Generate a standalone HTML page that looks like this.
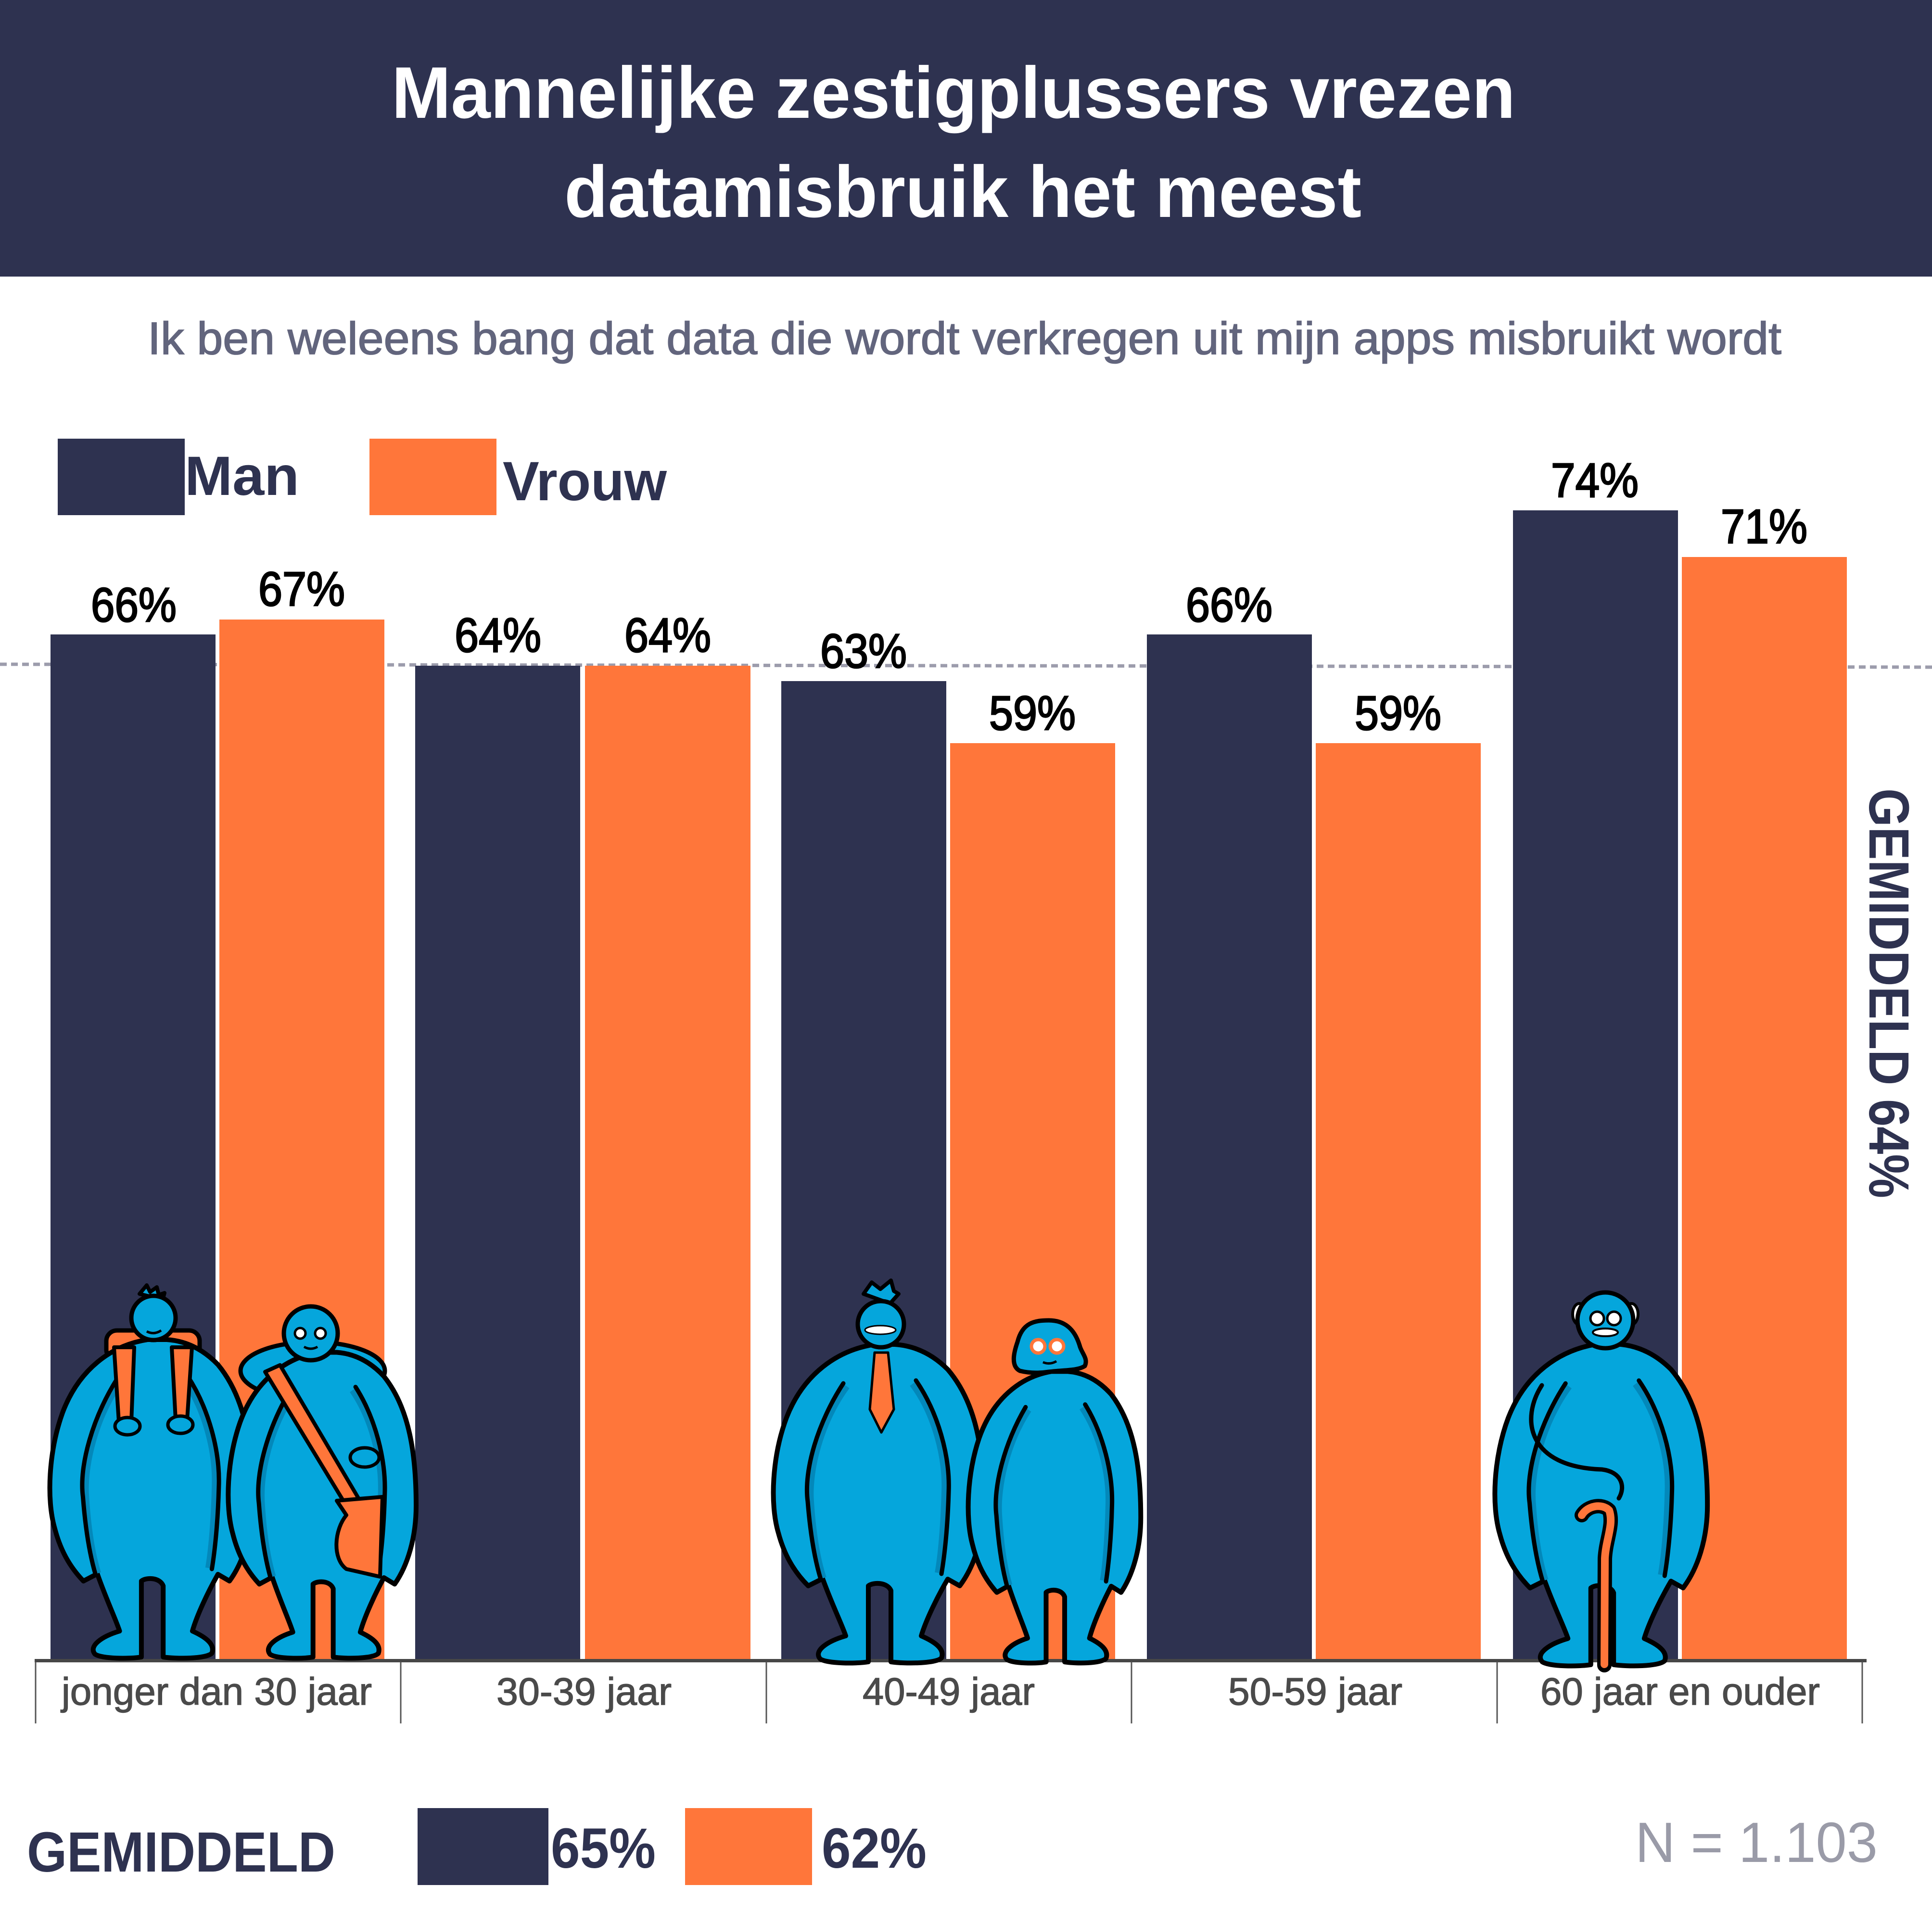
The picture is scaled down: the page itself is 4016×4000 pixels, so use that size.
<!DOCTYPE html>
<html>
<head>
<meta charset="utf-8">
<style>
html,body{margin:0;padding:0;background:#fff;}
svg{display:block;}
text{font-family:"Liberation Sans",sans-serif;}
</style>
</head>
<body>
<svg width="4016" height="4000" viewBox="0 0 4016 4000" xmlns="http://www.w3.org/2000/svg">
<defs>
  <g id="fig">
    <path d="M -12 -662 C -90 -650, -160 -600, -195 -510 C -225 -430, -230 -330, -212 -270 C -200 -225, -180 -190, -150 -160 L -120 -175 C -100 -120, -80 -80, -72 -56 C -110 -45, -140 -25, -125 -8 C -110 2, -50 2, -25 -2 L -25 -160 C -15 -168, 15 -168, 22 -150 L 22 -2 C 50 2, 115 2, 127 -10 C 135 -30, 110 -45, 85 -56 C 95 -90, 120 -140, 140 -174 L 165 -160 C 195 -200, 215 -260, 215 -330 C 215 -440, 200 -540, 140 -610 C 100 -650, 60 -660, 30 -662 Z" fill="#05a6dc" stroke="#000" stroke-width="10" stroke-linejoin="round" vector-effect="non-scaling-stroke"/>
    <path d="M -70 -575 C -125 -500, -150 -400, -145 -335 C -140 -260, -130 -210, -119 -176" fill="none" stroke="#0388ba" stroke-width="14" vector-effect="non-scaling-stroke"/>
    <path d="M 67 -580 C 112 -520, 137 -430, 134 -356 C 132 -280, 126 -220, 120 -187" fill="none" stroke="#0388ba" stroke-width="14" vector-effect="non-scaling-stroke"/>
    <path d="M -77 -581 C -130 -500, -160 -400, -151 -335 C -145 -260, -135 -210, -124 -174" fill="none" stroke="#000" stroke-width="9" stroke-linecap="round" vector-effect="non-scaling-stroke"/>
    <path d="M 74 -587 C 120 -520, 145 -430, 142 -356 C 140 -280, 133 -220, 127 -185" fill="none" stroke="#000" stroke-width="9" stroke-linecap="round" vector-effect="non-scaling-stroke"/>
  </g>
</defs>

<!-- Header -->
<rect x="0" y="0" width="4016" height="575" fill="#2e3250"/>
<text x="814" y="245" font-size="152" font-weight="bold" fill="#ffffff" textLength="2336" lengthAdjust="spacingAndGlyphs">Mannelijke zestigplussers vrezen</text>
<text x="1173" y="451" font-size="152" font-weight="bold" fill="#ffffff" textLength="1657" lengthAdjust="spacingAndGlyphs">datamisbruik het meest</text>

<!-- Subtitle -->
<text x="307" y="736" font-size="95" fill="#62657d" stroke="#62657d" stroke-width="1.8" textLength="3396" lengthAdjust="spacingAndGlyphs">Ik ben weleens bang dat data die wordt verkregen uit mijn apps misbruikt wordt</text>

<!-- Legend -->
<rect x="120" y="912" width="264" height="159" fill="#2e3250"/>
<rect x="768" y="912" width="264" height="159" fill="#ff763a"/>
<text x="384" y="1029" font-size="115" font-weight="bold" fill="#2e3250" textLength="238" lengthAdjust="spacingAndGlyphs">Man</text>
<text x="1045" y="1040" font-size="115" font-weight="bold" fill="#2e3250" textLength="341" lengthAdjust="spacingAndGlyphs">Vrouw</text>

<!-- Average dashed line -->
<line x1="0" y1="1381" x2="4016" y2="1387" stroke="#9c9cac" stroke-width="7" stroke-dasharray="14 9"/>

<!-- Bars -->
<rect x="105" y="1319" width="343" height="2130" fill="#2e3250"/>
<rect x="456" y="1288" width="343" height="2161" fill="#ff763a"/>
<rect x="863" y="1384" width="343" height="2065" fill="#2e3250"/>
<rect x="1216" y="1384" width="344" height="2065" fill="#ff763a"/>
<rect x="1624" y="1416" width="343" height="2033" fill="#2e3250"/>
<rect x="1975" y="1545" width="343" height="1904" fill="#ff763a"/>
<rect x="2384" y="1319" width="343" height="2130" fill="#2e3250"/>
<rect x="2735" y="1545" width="343" height="1904" fill="#ff763a"/>
<rect x="3145" y="1061" width="343" height="2388" fill="#2e3250"/>
<rect x="3496" y="1158" width="343" height="2291" fill="#ff763a"/>

<!-- Value labels -->
<g font-size="100" fill="#000" stroke="#000" stroke-width="2.8">
<text x="189" y="1292" textLength="178" lengthAdjust="spacingAndGlyphs">66%</text>
<text x="537" y="1259" textLength="180" lengthAdjust="spacingAndGlyphs">67%</text>
<text x="945" y="1355" textLength="180" lengthAdjust="spacingAndGlyphs">64%</text>
<text x="1298" y="1355" textLength="180" lengthAdjust="spacingAndGlyphs">64%</text>
<text x="1705" y="1388" textLength="180" lengthAdjust="spacingAndGlyphs">63%</text>
<text x="2056" y="1517" textLength="180" lengthAdjust="spacingAndGlyphs">59%</text>
<text x="2465" y="1292" textLength="180" lengthAdjust="spacingAndGlyphs">66%</text>
<text x="2816" y="1517" textLength="180" lengthAdjust="spacingAndGlyphs">59%</text>
<text x="3224" y="1033" textLength="182" lengthAdjust="spacingAndGlyphs">74%</text>
<text x="3577" y="1129" textLength="180" lengthAdjust="spacingAndGlyphs">71%</text>
</g>

<!-- Rotated average label -->
<text transform="translate(3886,1639) rotate(90)" font-size="118" font-weight="bold" fill="#2e3250" textLength="852" lengthAdjust="spacingAndGlyphs">GEMIDDELD 64%</text>

<!-- Axis -->
<rect x="72" y="3449" width="3808" height="7" fill="#474747"/>
<g stroke="#555" stroke-width="3">
<line x1="74" y1="3455" x2="74" y2="3583"/>
<line x1="833" y1="3455" x2="833" y2="3583"/>
<line x1="1593" y1="3455" x2="1593" y2="3583"/>
<line x1="2352" y1="3455" x2="2352" y2="3583"/>
<line x1="3112" y1="3455" x2="3112" y2="3583"/>
<line x1="3871" y1="3455" x2="3871" y2="3583"/>
</g>
<g font-size="80" fill="#4a4a4a" stroke="#4a4a4a" stroke-width="1.4">
<text x="128" y="3544" textLength="645" lengthAdjust="spacingAndGlyphs">jonger dan 30 jaar</text>
<text x="1032" y="3544" textLength="364" lengthAdjust="spacingAndGlyphs">30-39 jaar</text>
<text x="1793" y="3544" textLength="358" lengthAdjust="spacingAndGlyphs">40-49 jaar</text>
<text x="2553" y="3544" textLength="362" lengthAdjust="spacingAndGlyphs">50-59 jaar</text>
<text x="3202" y="3544" textLength="581" lengthAdjust="spacingAndGlyphs">60 jaar en ouder</text>
</g>

<!-- Figure A: young man with backpack -->
<rect x="221" y="2766" width="194" height="62" rx="22" fill="#ff763a" stroke="#000" stroke-width="9"/>
<use href="#fig" transform="translate(318,3447) scale(0.964,1.0)"/>
<path d="M 290 2690 L 305 2672 L 312 2686 L 326 2676 L 330 2692 L 342 2688 L 338 2702 Z" fill="#05a6dc" stroke="#000" stroke-width="8" stroke-linejoin="round"/>
<circle cx="319" cy="2740" r="46" fill="#05a6dc" stroke="#000" stroke-width="9"/>
<path d="M 305 2768 Q 320 2776 335 2766" fill="none" stroke="#000" stroke-width="5"/>
<polygon points="237,2801 279,2801 273,2956 247,2956" fill="#ff763a" stroke="#000" stroke-width="8" stroke-linejoin="round"/>
<polygon points="357,2801 399,2801 389,2951 365,2951" fill="#ff763a" stroke="#000" stroke-width="8" stroke-linejoin="round"/>
<ellipse cx="265" cy="2965" rx="26" ry="18" fill="#05a6dc" stroke="#000" stroke-width="7"/>
<ellipse cx="375" cy="2962" rx="26" ry="18" fill="#05a6dc" stroke="#000" stroke-width="7"/>

<!-- Figure B: young woman with bag -->
<ellipse cx="650" cy="2850" rx="150" ry="60" fill="#05a6dc" stroke="#000" stroke-width="9"/>
<use href="#fig" transform="translate(673,3447) scale(0.893,0.96)"/>
<circle cx="646" cy="2772" r="56" fill="#05a6dc" stroke="#000" stroke-width="9"/>
<circle cx="624" cy="2772" r="11" fill="#fff" stroke="#000" stroke-width="5"/>
<circle cx="666" cy="2772" r="11" fill="#fff" stroke="#000" stroke-width="5"/>
<path d="M 632 2800 Q 646 2808 660 2800" fill="none" stroke="#000" stroke-width="5"/>
<polygon points="551,2852 582,2838 760,3140 733,3152" fill="#ff763a" stroke="#000" stroke-width="8" stroke-linejoin="round"/>
<path d="M 700 3120 L 795 3112 L 790 3278 L 720 3262 C 690 3240, 695 3180, 720 3150 Z" fill="#ff763a" stroke="#000" stroke-width="8" stroke-linejoin="round"/>
<ellipse cx="758" cy="3030" rx="30" ry="20" fill="#05a6dc" stroke="#000" stroke-width="7"/>

<!-- Figure C: man with tie -->
<use href="#fig" transform="translate(1830,3457) scale(1,1)"/>
<path d="M 1795 2690 L 1812 2666 L 1830 2680 L 1852 2662 L 1858 2684 L 1868 2690 L 1850 2710 Z" fill="#05a6dc" stroke="#000" stroke-width="8" stroke-linejoin="round"/>
<circle cx="1831" cy="2753" r="48" fill="#05a6dc" stroke="#000" stroke-width="9"/>
<ellipse cx="1830" cy="2765" rx="32" ry="9" fill="#fff" stroke="#000" stroke-width="3"/>
<polygon points="1818,2812 1846,2812 1858,2930 1832,2978 1808,2930" fill="#ff763a" stroke="#000" stroke-width="5" stroke-linejoin="round"/>

<!-- Figure D: woman with glasses -->
<use href="#fig" transform="translate(2195,3457) scale(0.82,0.915)"/>
<path d="M 2120 2850 C 2100 2840, 2108 2810, 2115 2790 C 2125 2750, 2150 2745, 2180 2745 C 2215 2745, 2235 2765, 2245 2800 C 2250 2815, 2262 2825, 2255 2840 C 2240 2850, 2210 2848, 2180 2852 C 2160 2855, 2140 2855, 2120 2850 Z" fill="#05a6dc" stroke="#000" stroke-width="9" stroke-linejoin="round"/>
<circle cx="2158" cy="2799" r="14" fill="#fff" stroke="#ff763a" stroke-width="7"/>
<circle cx="2197" cy="2799" r="14" fill="#fff" stroke="#ff763a" stroke-width="7"/>
<path d="M 2168 2832 Q 2182 2838 2196 2830" fill="none" stroke="#000" stroke-width="5"/>

<!-- Figure E: old man with cane -->
<use href="#fig" transform="translate(3332,3463) scale(1.01,1.01)"/>
<path d="M 3205 2880 C 3160 2950, 3175 3050, 3330 3055 C 3370 3060, 3380 3090, 3365 3115" fill="none" stroke="#000" stroke-width="9" stroke-linecap="round"/>
<path d="M 3288 3150 C 3300 3130, 3330 3125, 3345 3140 C 3355 3170, 3338 3200, 3336 3240 L 3335 3462" fill="none" stroke="#000" stroke-width="30" stroke-linecap="round" stroke-linejoin="round"/>
<path d="M 3288 3150 C 3300 3130, 3330 3125, 3345 3140 C 3355 3170, 3338 3200, 3336 3240 L 3335 3460" fill="none" stroke="#ff763a" stroke-width="16" stroke-linecap="round" stroke-linejoin="round"/>
<ellipse cx="3283" cy="2732" rx="14" ry="22" fill="#fff" stroke="#000" stroke-width="6"/>
<ellipse cx="3391" cy="2732" rx="14" ry="22" fill="#fff" stroke="#000" stroke-width="6"/>
<circle cx="3337" cy="2745" r="58" fill="#05a6dc" stroke="#000" stroke-width="9"/>
<circle cx="3320" cy="2741" r="14" fill="#fff" stroke="#000" stroke-width="5"/>
<circle cx="3355" cy="2741" r="14" fill="#fff" stroke="#000" stroke-width="5"/>
<ellipse cx="3337" cy="2770" rx="26" ry="8" fill="#fff" stroke="#000" stroke-width="4"/>

<!-- Bottom averages -->
<text x="56" y="3891" font-size="118" font-weight="bold" fill="#2e3250" textLength="641" lengthAdjust="spacingAndGlyphs">GEMIDDELD</text>
<rect x="868" y="3759" width="272" height="160" fill="#2e3250"/>
<rect x="1424" y="3759" width="264" height="160" fill="#ff763a"/>
<text x="1145" y="3883" font-size="118" font-weight="bold" fill="#2e3250" textLength="218" lengthAdjust="spacingAndGlyphs">65%</text>
<text x="1708" y="3883" font-size="118" font-weight="bold" fill="#2e3250" textLength="218" lengthAdjust="spacingAndGlyphs">62%</text>
<text x="3399" y="3871" font-size="118" fill="#9a9ba8" textLength="504" lengthAdjust="spacingAndGlyphs">N = 1.103</text>
</svg>
</body>
</html>
